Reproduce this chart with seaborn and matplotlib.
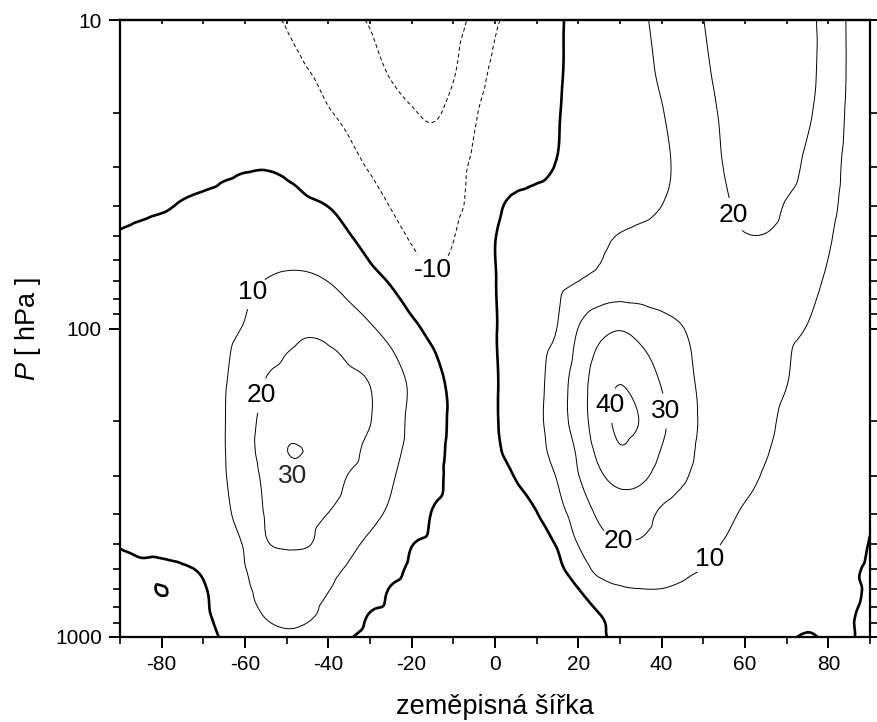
import numpy as np
import pandas as pd
import seaborn as sns
import matplotlib
matplotlib.use("Agg")
import matplotlib.pyplot as plt
import matplotlib.tri as mtri
from matplotlib.ticker import LogLocator, NullFormatter, MultipleLocator

# ---------------- data (zonal wind, m/s) ----------------
lats = [-90, -85, -80, -75, -70, -65, -60, -55, -50, -45, -40, -35, -30, -25,
        -20, -15, -10, -5, 0, 5, 10, 15, 20, 25, 30, 35, 40, 45, 50, 55, 60,
        65, 70, 75, 80, 85, 90]
pressures = [10, 15, 20, 30, 40, 50, 70, 100, 150, 200, 250, 300, 400, 500,
             600, 700, 850, 1000]

u_10 = [-9, -8, -7, -7, -7, -8, -8.5, -9.5, -10.3, -13, -16, -18.5, -20.5, -23, -25, -26, -23, -18, -11, -8, -5, -1, 2, 5, 7, 9, 12, 16, 19.9, 23, 25, 26, 25, 22.5, 16, 9, 4]
u_15 = [-6, -5, -4.5, -4.5, -5, -6, -7, -8, -9, -9.7, -11.5, -14, -17, -20.5, -23, -24, -20.5, -14, -8, -5, -3, -0.7, 2, 4.5, 6.5, 8.5, 10.8, 14.5, 18.6, 22, 24, 25, 24.5, 22, 16.5, 9, 4]
u_20 = [-4, -3, -2.5, -2.5, -3, -4, -5, -6, -7, -8, -9.6, -11.5, -14, -16.5, -19.3, -21, -17.5, -11, -6, -3.5, -2, -0.3, 2, 4, 6, 8, 9.7, 13, 17.5, 21, 23.5, 24.5, 24, 21, 16, 8.5, 3.5]
u_30 = [-1.5, -1.5, -1.5, -1.2, -1, -0.6, -0.3, -0.2, -0.8, -2.5, -4.5, -7.5, -10.6, -13, -14.5, -15, -13, -8.5, -5, -3, -1.5, 0.3, 2, 4, 6, 7.5, 9, 11.5, 15, 20.2, 22.5, 23.5, 22.5, 18.5, 14, 7.5, 3]
u_40 = [-1.5, -1, -0.5, 0.3, 0.8, 1.2, 1.5, 1.6, 1.3, 0.8, -0.1, -2, -6, -10.3, -12.5, -13.5, -12, -7.5, -1.5, 1.5, 2.5, 3, 3.5, 5, 6.5, 8, 10, 12, 15, 19, 21.5, 22, 19.5, 16.5, 12.5, 7, 3]
u_50 = [0.3, 1, 1.8, 2.5, 3.2, 3.8, 4.2, 4.5, 4.5, 4, 2.5, 0.3, -3, -7, -10.8, -12, -10.3, -5, -0.2, 2.5, 4, 5, 6, 8.5, 10.3, 11.5, 12.5, 14, 16, 18.5, 19.8, 19.8, 18, 15, 11, 6, 2.5]
u_70 = [0.5, 1.5, 2.5, 3.5, 5, 6.5, 8.5, 10.2, 11.5, 11.5, 9.8, 6.5, 2.5, -0.8, -6, -9, -8, -4, -0.2, 3, 6, 8, 9.9, 12, 13.5, 14, 14, 14, 14.5, 15.5, 16, 15.5, 14, 12, 9, 5, 2]
u_100 = [0.5, 1.5, 2.8, 4.5, 6.5, 8.5, 10.5, 14, 17.5, 19, 18, 14.5, 11, 7, 2, -2, -3.5, -2.5, -0.3, 3, 6.5, 10.2, 20.2, 27, 29.5, 27, 23.5, 20.3, 16, 13.5, 12.5, 12, 11, 9.8, 7.5, 4.5, 2]
u_150 = [0.5, 1.5, 3, 5, 7, 9.5, 14, 20.5, 23, 24, 23.5, 22, 19.8, 14.5, 8.5, 3, -1.5, -2, -0.5, 3.5, 7.5, 15, 25, 35, 39.8, 35, 29.5, 23.5, 18, 15, 13, 11.5, 10.1, 8, 6, 3.5, 1.5]
u_200 = [0.5, 1.5, 3, 5, 7, 9.7, 16, 23, 27, 28, 27.5, 25.5, 20.3, 14.5, 8, 3, -1, -2, -0.5, 3.5, 8, 15, 25, 35, 42, 39.5, 31.5, 25, 18.5, 15, 12.8, 11, 9, 7, 5, 3, 1.5]
u_250 = [0.3, 1.2, 2.5, 4.5, 7, 9.7, 16, 24, 29.9, 29.8, 28.5, 23.5, 17, 12.5, 7.6, 2.5, -1.2, -2, -1, 3, 7.5, 13, 21.5, 32.5, 39, 36, 29.5, 24, 17.5, 14, 12, 10.3, 8.5, 6.5, 4.5, 2.5, 1.2]
u_300 = [0.2, 1, 2, 4, 6.5, 9.5, 15, 22, 26.5, 27.5, 25, 19.5, 15.5, 11, 6.5, 2.3, -1.5, -1.5, -1, 0.3, 5, 10.7, 19.7, 28.5, 33, 32, 26.5, 21.5, 16.5, 13.5, 11.5, 9.5, 8, 6, 4, 2.5, 1]
u_400 = [0.1, 1, 2, 3.5, 6, 8.5, 13.5, 20.5, 22.5, 22, 19.8, 16, 12.3, 8.5, 4.5, -0.3, -1.5, -1.5, -1.5, -1, -0.3, 7, 13.5, 21.5, 24.5, 23.5, 18.5, 15.5, 13.5, 11.3, 9.3, 7.5, 6, 4.5, 3, 1.5, 0.3]
u_500 = [0.1, 0.8, 1.5, 3, 5, 7.5, 10.7, 19.2, 21, 20.5, 16.5, 12, 8.3, 4.6, 0.2, -1, -1.5, -1.5, -1.5, -1.2, -1, 0.6, 10.3, 17, 19.5, 19, 16.5, 13.5, 11.5, 9.7, 8, 6.5, 5, 4, 2.5, 1, -0.1]
u_600 = [-0.5, -0.5, -0.8, -0.5, 0.8, 4, 9.8, 13.5, 15.5, 15, 12.5, 9, 5.5, 2, -0.8, -1.5, -1.5, -1.5, -1.5, -1.2, -1, -1, 4, 13.5, 14.5, 14, 13, 11.5, 9.9, 8, 6.5, 5, 4, 3, 2, 0.5, -0.3]
u_700 = [-0.8, -0.5, 0.1, -0.5, -0.3, 2.5, 8.8, 11.5, 12.5, 12, 10.3, 6.5, 3, -0.3, -1.3, -1.5, -1.5, -1.5, -1.5, -1.5, -1.5, -1, -0.1, 5, 9, 9.9, 9.9, 9, 7.5, 6, 5, 4, 3, 2.5, 1.5, 0.8, -0.5]
u_850 = [-1, -0.8, -0.8, -0.8, -0.5, 1.5, 6, 10.5, 12, 11, 8, 3.5, -0.3, -1, -1.5, -2, -2, -2, -2, -2, -2, -1.5, -1, -0.2, 3, 5.5, 6, 5.5, 5, 4.5, 3.5, 3, 2, 1, 1, 0.3, -0.8]
u_1000 = [-1.5, -1.5, -1.5, -1.5, -1, 0.5, 3, 6.5, 8.5, 7.5, 4, 0.5, -1.5, -2, -2.5, -3, -3, -3, -2.5, -2.5, -2.5, -2, -1.5, -0.5, 1, 2.5, 3, 3, 3, 2.5, 2, 1.5, 0.5, -0.3, 0.4, 0.3, -1]

labelled_levels = [-10, 10, 20, 30, 40]
plain_levels = [-20]
zero_level = [0]
x_ticks = [-80, -60, -40, -20, 0, 20, 40, 60, 80]
y_ticks = [10, 100, 1000]
y_ticklabels = ["10", "100", "1000"]

field = pd.DataFrame([u_10, u_15, u_20, u_30, u_40, u_50, u_70, u_100, u_150,
                      u_200, u_250, u_300, u_400, u_500, u_600, u_700, u_850,
                      u_1000], index=pressures, columns=lats)

# ---------------- style ----------------
sns.set_theme(style="ticks")
plt.rcParams["font.family"] = ["Liberation Sans", "DejaVu Sans"]
plt.rcParams["mathtext.fontset"] = "custom"
plt.rcParams["mathtext.it"] = "Liberation Sans:italic"
plt.rcParams["mathtext.rm"] = "Liberation Sans"
plt.rcParams["axes.unicode_minus"] = False

fig = plt.figure(figsize=(8.77, 7.22), dpi=100)
ax = fig.add_axes([120 / 877, 85 / 722, 750 / 877, 617 / 722])

# triangulate the grid in (lat, scaled log p) space and let matplotlib's
# cubic tri-interpolator draw smooth contours through the read values
X = field.columns.values.astype(float)
Y = field.index.values.astype(float)
Z = field.values.astype(float)
ny, nx = Z.shape
LSCALE = 74.0
gx, gy = np.meshgrid(X, np.log10(Y) * LSCALE)
node = np.arange(ny * nx).reshape(ny, nx)
tris = []
for j in range(ny - 1):
    for i in range(nx - 1):
        a, b, c, d = node[j, i], node[j, i + 1], node[j + 1, i], node[j + 1, i + 1]
        tris.append([a, b, d])
        tris.append([a, d, c])
tri = mtri.Triangulation(gx.ravel(), gy.ravel(), np.array(tris))
interp = mtri.CubicTriInterpolator(tri, Z.ravel(), kind="geom")
refiner = mtri.UniformTriRefiner(tri)
tri_r, z_r = refiner.refine_field(Z.ravel(), triinterpolator=interp, subdiv=3)
tri_plot = mtri.Triangulation(tri_r.x, 10 ** (tri_r.y / LSCALE), tri_r.triangles)

dash = (0, (4, 2.8))
cs_lab = ax.tricontour(tri_plot, z_r, levels=labelled_levels, colors="black",
                       linewidths=0.7,
                       linestyles=[dash if lv < 0 else "solid" for lv in labelled_levels])
ax.tricontour(tri_plot, z_r, levels=plain_levels, colors="black",
              linewidths=0.7, linestyles=[dash])
ax.tricontour(tri_plot, z_r, levels=zero_level, colors="black",
              linewidths=1.9, linestyles="solid")

ax.set_yscale("log")
ax.set_xlim(-90, 90)
ax.set_ylim(1000, 10)

# contour labels (horizontal, as in the original)
label_spots = [(-57, 78), (-56, 165), (-15, 66), (57, 43),
               (28.5, 178), (41, 185), (30, 470), (51.5, 560)]
ax.clabel(cs_lab, labelled_levels, inline=True, fmt="%d", fontsize=19,
          manual=label_spots, inline_spacing=3)
for t in ax.texts:
    t.set_rotation(0)
ax.text(-48.5, 300, "30", fontsize=19, ha="center", va="center")

# axes & ticks
ax.set_xticks(x_ticks)
ax.xaxis.set_minor_locator(MultipleLocator(10))
ax.set_yticks(y_ticks, labels=y_ticklabels)
ax.yaxis.set_minor_locator(LogLocator(base=10, subs=range(2, 10)))
ax.yaxis.set_minor_formatter(NullFormatter())
ax.tick_params(which="major", direction="out", length=8, width=1.4,
               labelsize=15, pad=5, color="black", labelcolor="black",
               right=True)
ax.tick_params(which="minor", direction="out", length=5, width=1.2,
               color="black", right=True)
for sp in ax.spines.values():
    sp.set_linewidth(1.6)
    sp.set_color("black")

# small inward ticks along the top edge
top = ax.secondary_xaxis("top")
top.set_xticks(x_ticks)
top.xaxis.set_minor_locator(MultipleLocator(10))
top.tick_params(which="both", direction="in", length=3, width=1.2,
                labeltop=False, color="black")
top.spines["top"].set_linewidth(1.6)

ax.set_xlabel("zeměpisná šířka", fontsize=19.5, labelpad=14, color="black")
ax.set_ylabel(r"$P$ [ hPa ]", fontsize=19.5, labelpad=9, color="black")

fig.savefig("out.png", dpi=100)
